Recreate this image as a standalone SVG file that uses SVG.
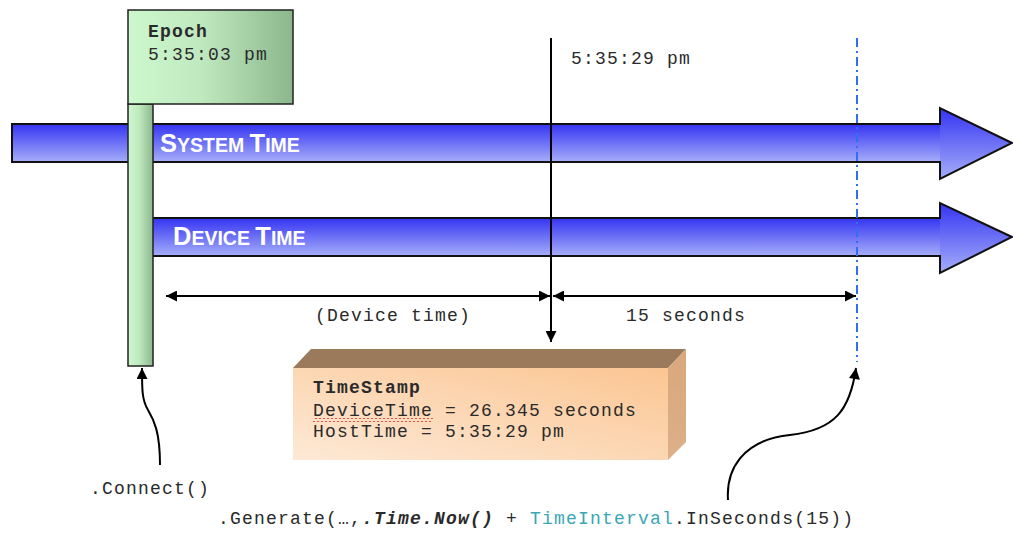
<svg xmlns="http://www.w3.org/2000/svg" width="1013" height="535" viewBox="0 0 1013 535">
<defs>
<linearGradient id="gGreen" x1="0" y1="0" x2="1" y2="0">
<stop offset="0" stop-color="#cdf8cd"/><stop offset="0.45" stop-color="#bfe8bf"/><stop offset="1" stop-color="#8cb78c"/>
</linearGradient>
<linearGradient id="gBlue" x1="0" y1="0" x2="0" y2="1">
<stop offset="0" stop-color="#3434f2"/><stop offset="1" stop-color="#a6aef9"/>
</linearGradient>
<linearGradient id="gPeach" x1="1" y1="0" x2="0" y2="1">
<stop offset="0" stop-color="#fbc592"/><stop offset="1" stop-color="#fde9d6"/>
</linearGradient>
<linearGradient id="gSide" x1="0" y1="0" x2="0" y2="1">
<stop offset="0" stop-color="#d9a77a"/><stop offset="1" stop-color="#dcb08a"/>
</linearGradient>
<pattern id="squig" x="0" y="0" width="4" height="4" patternUnits="userSpaceOnUse">
<path d="M0,3 L2,1 L4,3" fill="none" stroke="#e03030" stroke-width="0.8"/>
</pattern>
<marker id="ah" viewBox="0 0 10 10" refX="10" refY="5" markerWidth="14" markerHeight="11" markerUnits="userSpaceOnUse" orient="auto-start-reverse">
<path d="M0,0 L10,5 L0,10 z" fill="#000"/>
</marker>
<style>
.mono{font-family:"Liberation Mono","Courier New",monospace;font-size:18px;letter-spacing:1.2px;fill:#2a2a2a}
.b{font-weight:bold}
.title{font-family:"Liberation Sans",Arial,sans-serif;font-weight:bold;fill:#fff}
.big{font-size:25.5px}
.sm{font-size:19.5px}
.line{fill:none;stroke:#000;stroke-width:2}
.outline{fill:none;stroke:#111;stroke-width:2}
</style>
</defs>

<g id="system-time">
<rect x="12" y="124" width="929" height="38" fill="url(#gBlue)"/>
<polygon points="940,108 1013,143 940,179" fill="url(#gBlue)"/>
<polygon class="outline" points="12,124 940,124 940,108 1012,143 940,179 940,162 12,162"/>
<text class="title" x="160" y="152"><tspan class="big">S</tspan><tspan class="sm">YSTEM </tspan><tspan class="big">T</tspan><tspan class="sm">IME</tspan></text>
</g>

<g id="device-time">
<rect x="150" y="218" width="791" height="38" fill="url(#gBlue)"/>
<polygon points="940,203 1013,237 940,273" fill="url(#gBlue)"/>
<polygon class="outline" points="150,218 940,218 940,203 1012,237 940,273 940,256 150,256"/>
<text class="title" x="173" y="245"><tspan class="big">D</tspan><tspan class="sm">EVICE </tspan><tspan class="big">T</tspan><tspan class="sm">IME</tspan></text>
</g>

<g id="epoch">
<rect x="128" y="104" width="25" height="262" fill="url(#gGreen)" stroke="#222" stroke-width="1.5"/>
<rect x="128" y="10" width="165" height="94" fill="url(#gGreen)" stroke="#222" stroke-width="1.5"/>
<text class="mono b" x="148" y="37">Epoch</text>
<text class="mono" x="148" y="60">5:35:03 pm</text>
</g>

<g id="now-label">
<text class="mono" x="571" y="64">5:35:29 pm</text>
</g>

<g id="timestamp">
<polygon points="293,368 311,349 686,349 668,368" fill="#9a7a5b"/>
<polygon points="668,368 686,349 686,442 668,460" fill="url(#gSide)"/>
<rect x="293" y="368" width="375" height="92" fill="url(#gPeach)"/>
<text class="mono b" x="313" y="393">TimeStamp</text>
<rect x="313" y="418" width="120" height="4" fill="url(#squig)"/>
<text class="mono" x="313" y="416">DeviceTime = 26.345 seconds</text>
<text class="mono" x="313" y="437">HostTime = 5:35:29 pm</text>
</g>

<g id="labels">
<text class="mono" x="315" y="321">(Device time)</text>
<text class="mono" x="626" y="321">15 seconds</text>
<text class="mono" x="90" y="494">.Connect()</text>
<text class="mono" x="218" y="524">.Generate(…,<tspan font-weight="bold" font-style="italic">.Time.Now()</tspan> + <tspan fill="#3aa6b6">TimeInterval</tspan>.InSeconds(15))</text>
</g>

<g id="connectors">
<path d="M857,38 V362" fill="none" stroke="#2f6ef0" stroke-width="2" stroke-dasharray="9,4,2,4"/>
<path class="line" d="M551,38 V342" marker-end="url(#ah)"/>
<path class="line" d="M166,296 H550" marker-start="url(#ah)" marker-end="url(#ah)"/>
<path class="line" d="M553,296 H856" marker-start="url(#ah)" marker-end="url(#ah)"/>
<path class="line" d="M160,465 C160,432 154,420 148,410 C142,400 142,390 142,368" marker-end="url(#ah)"/>
<path class="line" d="M728,500 C726,470 742,440 790,435 C835,430 850,410 856,368" marker-end="url(#ah)"/>
</g>
</svg>
